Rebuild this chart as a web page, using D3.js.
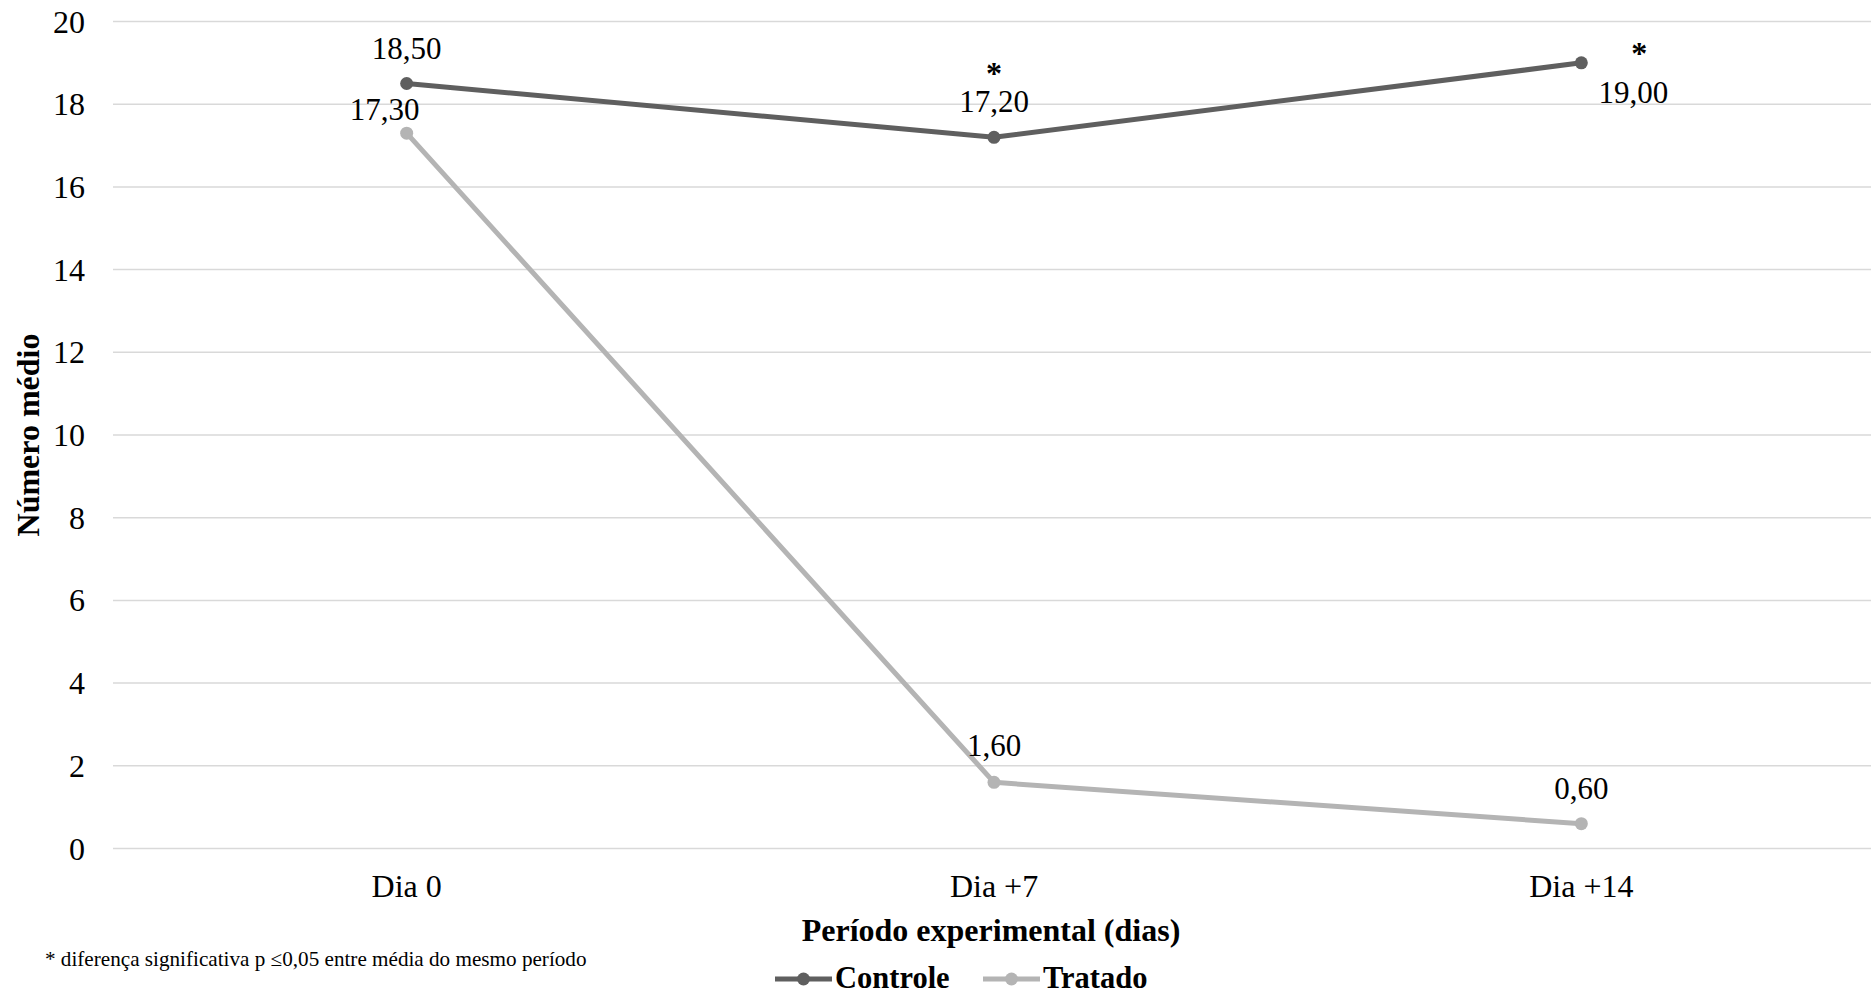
<!DOCTYPE html>
<html><head><meta charset="utf-8">
<script src="https://cdn.jsdelivr.net/npm/d3@7"></script>
</head>
<body style="margin:0;background:#fff"><svg id="c" width="1871" height="996" style="font-family:'Liberation Serif','Times New Roman',Times,serif"></svg>
<script>
const categories = ["Dia 0", "Dia +7", "Dia +14"];
const controle = [18.5, 17.2, 19.0];
const tratado = [17.3, 1.6, 0.6];
const significant = [false, true, true];
const yTicks = [0, 2, 4, 6, 8, 10, 12, 14, 16, 18, 20];
const seriesNames = ["Controle", "Tratado"];
const colors = ["#5f5f5f", "#b4b4b4"];

const FONT = "'Liberation Serif', 'Times New Roman', Times, serif";
const svg = d3.select("#c");
const pL = 113, pR = 1875, pT = 21.5, pB = 848.5;
const x = d3.scaleBand().domain(categories).range([pL, pR]);
const y = d3.scaleLinear().domain([0, 20]).range([pB, pT]);
const cx = c => x(c) + x.bandwidth() / 2;
const fmt = v => v.toFixed(2).replace(".", ",");
const txt = sel => sel.attr("font-family", null).style("font-family", FONT).style("fill", "#000");

// gridlines
svg.append("g").selectAll("line").data(yTicks).join("line")
  .attr("x1", pL).attr("x2", 1871)
  .attr("y1", d => y(d)).attr("y2", d => y(d))
  .attr("stroke", "#d9d9d9").attr("stroke-width", 1.5);

// y axis labels
const gy = svg.append("g").attr("transform", "translate(85,0)")
  .call(d3.axisLeft(y).tickValues(yTicks).tickSize(0).tickPadding(0));
gy.attr("font-family", null).attr("font-size", null);
gy.select(".domain").remove();
gy.selectAll("text").call(txt).style("font-size", "32px").attr("dy", "0.33em");

// x axis labels
const gx = svg.append("g").attr("transform", "translate(0,874)")
  .call(d3.axisBottom(x).tickSize(0).tickPadding(0));
gx.attr("font-family", null).attr("font-size", null);
gx.select(".domain").remove();
gx.selectAll("text").call(txt).style("font-size", "32px").attr("dy", "0.71em");

// axis titles
svg.append("text").attr("x", 991).attr("y", 941).attr("text-anchor", "middle")
  .call(txt).style("font-size", "32px").style("font-weight", "bold").text("Período experimental (dias)");
svg.append("text").attr("transform", "translate(39,435) rotate(-90)").attr("text-anchor", "middle")
  .call(txt).style("font-size", "32px").style("font-weight", "bold").text("Número médio");

// footnote
const fn = svg.append("text").attr("x", 45).attr("y", 966)
  .call(txt).style("font-size", "18px")
  .text("* diferença significativa p ≤0,05 entre média do mesmo período");
const fnW = fn.node().getComputedTextLength();
fn.style("font-size", (18 * 542 / fnW).toFixed(2) + "px");

// lines & markers
const seriesData = [controle, tratado];
const line = d3.line().x((d, i) => cx(categories[i])).y(d => y(d));
seriesData.forEach((s, k) => {
  svg.append("path").datum(s).attr("d", line).attr("fill", "none")
    .attr("stroke", colors[k]).attr("stroke-width", 5).attr("stroke-linejoin", "round").attr("stroke-linecap", "round");
  svg.append("g").selectAll("circle").data(s).join("circle")
    .attr("cx", (d, i) => cx(categories[i])).attr("cy", d => y(d)).attr("r", 6.5).attr("fill", colors[k]);
});

// data labels
const ctrlOff = [[0, -25], [0, -25], [52, 40]];
const tratOff = [[-22, -13], [0, -26], [0, -25]];
svg.append("g").selectAll("text").data(controle).join("text")
  .attr("x", (d, i) => cx(categories[i]) + ctrlOff[i][0])
  .attr("y", (d, i) => y(d) + ctrlOff[i][1])
  .attr("text-anchor", "middle").call(txt).style("font-size", "31px").text(d => fmt(d));
svg.append("g").selectAll("text").data(tratado).join("text")
  .attr("x", (d, i) => cx(categories[i]) + tratOff[i][0])
  .attr("y", (d, i) => y(d) + tratOff[i][1])
  .attr("text-anchor", "middle").call(txt).style("font-size", "31px").text(d => fmt(d));

// significance asterisks
const astPos = [null, [0, -53], [58, 1]];
svg.append("g").selectAll("text").data(categories.filter((c, i) => significant[i]))
  .join("text")
  .attr("x", c => { const i = categories.indexOf(c); return cx(c) + astPos[i][0]; })
  .attr("y", c => { const i = categories.indexOf(c); return y(controle[i]) + astPos[i][1]; })
  .attr("text-anchor", "middle").call(txt).style("font-size", "32px").style("font-weight", "bold").text("*");

// legend
const lg = svg.append("g");
const legX = [775, 983];
seriesNames.forEach((n, k) => {
  lg.append("line").attr("x1", legX[k]).attr("x2", legX[k] + 57).attr("y1", 979).attr("y2", 979)
    .attr("stroke", colors[k]).attr("stroke-width", 5);
  lg.append("circle").attr("cx", legX[k] + 28.5).attr("cy", 979).attr("r", 6.5).attr("fill", colors[k]);
  lg.append("text").attr("x", legX[k] + 60).attr("y", 988).call(txt)
    .style("font-size", "30.5px").style("font-weight", "bold").text(n);
});
</script></body></html>
